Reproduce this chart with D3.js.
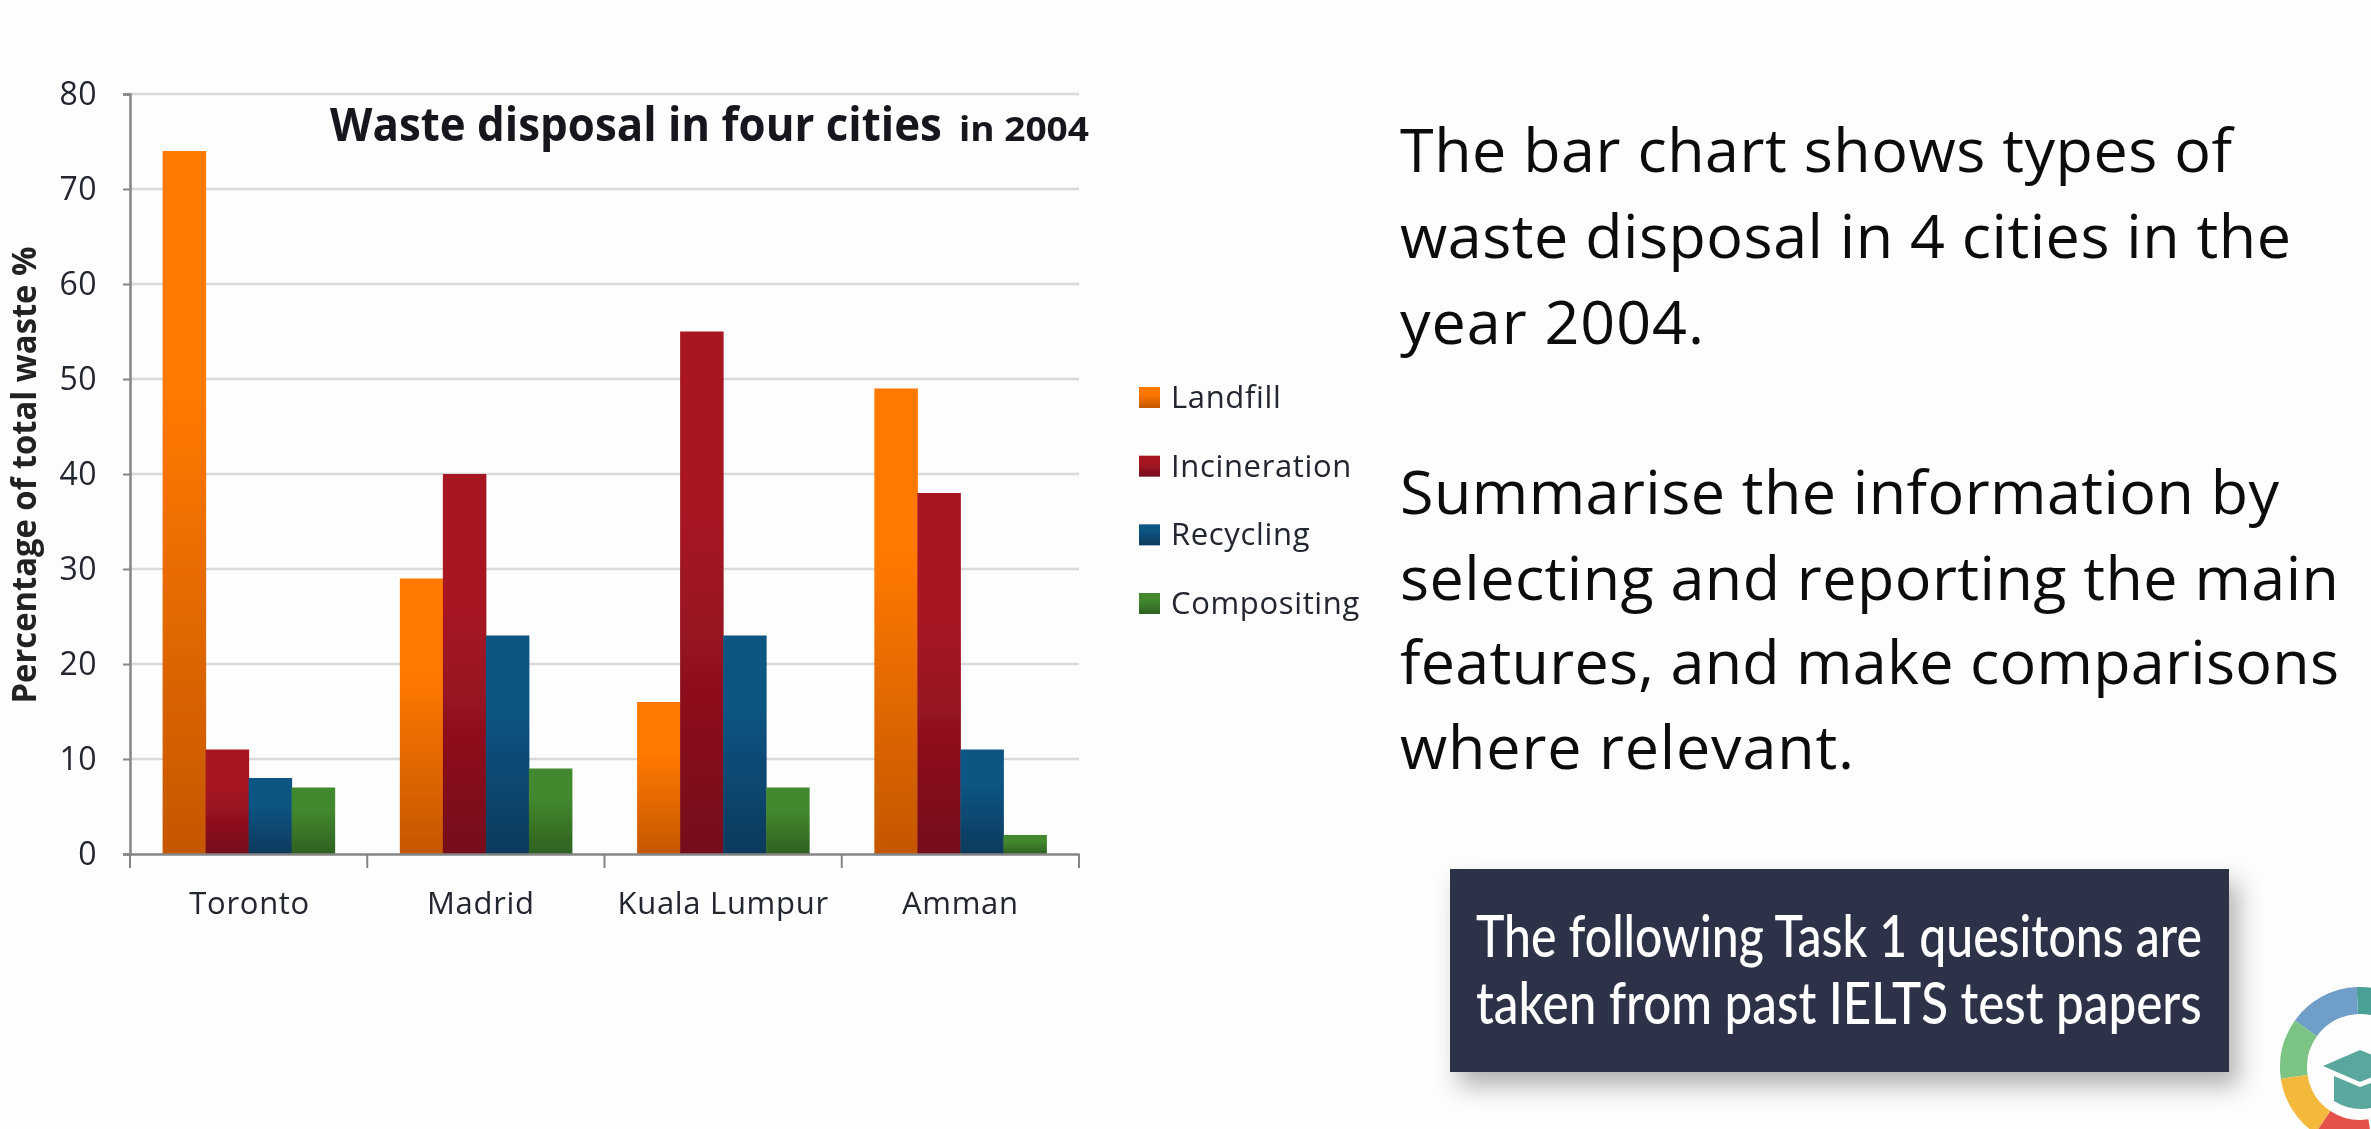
<!DOCTYPE html>
<html><head><meta charset="utf-8">
<script src="https://cdn.jsdelivr.net/npm/d3@7"></script>
<style>html,body{margin:0;padding:0;background:#fdfdfd;overflow:hidden}svg{display:block}</style>
</head><body><svg id="c" width="2371" height="1129"></svg>
<script>
const cities = ["Toronto","Madrid","Kuala Lumpur","Amman"];
const seriesNames = ["Landfill","Incineration","Recycling","Compositing"];
const landfill = [74,29,16,49];
const incineration = [11,40,55,38];
const recycling = [8,23,23,11];
const compositing = [7,9,7,2];
const yTicks = [0,10,20,30,40,50,60,70,80];
const seriesColors = [["#ff7800","#c45700"],["#a81524","#760d1a"],["#0f5483","#0b3a5c"],["#43882f","#2d6120"]];
const chartTitle = "Waste disposal in four cities";
const titleSuffix = "in 2004";
const yTitle = "Percentage of total waste %";
const para1 = ["The bar chart shows types of","waste disposal in 4 cities in the","year 2004."];
const para2 = ["Summarise the information by","selecting and reporting the main","features, and make comparisons","where relevant."];
const boxLines = ["The following Task 1 quesitons are","taken from past IELTS test papers"];

const seriesValues = [landfill,incineration,recycling,compositing];
const svg = d3.select("#c");
const F = "'Open Sans',sans-serif";
const defs = svg.append("defs");
seriesColors.forEach((c,i)=>{
  const g = defs.append("linearGradient").attr("id","g"+i).attr("x1",0).attr("x2",0).attr("y1",0).attr("y2",1);
  g.append("stop").attr("offset","0.35").attr("stop-color",c[0]);
  g.append("stop").attr("offset","1").attr("stop-color",c[1]);
});
const sh = defs.append("filter").attr("id","sh").attr("x","-10%").attr("y","-20%").attr("width","125%").attr("height","150%");
sh.append("feDropShadow").attr("dx",9).attr("dy",14).attr("stdDeviation",12).attr("flood-color","#000").attr("flood-opacity",0.3);
const soft = defs.append("filter").attr("id","soft");
soft.append("feGaussianBlur").attr("stdDeviation",0.6);

const x0 = d3.scaleBand().domain(cities).range([130,1079]);
const x1 = d3.scaleBand().domain(seriesNames).range([0,x0.bandwidth()]).paddingInner(0).paddingOuter(0.758);
const y = d3.scaleLinear().domain([0,80]).range([854,94]);

// squeeze a text horizontally to a target width, keeping its real bounding box
function fitWidth(sel, x, yPos, width){
  const w = sel.node().getComputedTextLength();
  sel.attr("transform",`translate(${x},${yPos}) scale(${width/w},1)`);
}

const chart = svg.append("g").attr("filter","url(#soft)");
chart.append("g").selectAll("line").data(yTicks.filter(d=>d>0)).join("line")
  .attr("x1",130).attr("x2",1079).attr("y1",d=>y(d)).attr("y2",d=>y(d))
  .attr("stroke","#d9d9d9").attr("stroke-width",2.5);

cities.forEach((city,ci)=>{
  chart.append("g").selectAll("rect").data(seriesNames).join("rect")
    .attr("x",s=>x0(city)+x1(s)).attr("width",x1.bandwidth()+0.5)
    .attr("y",(s,si)=>y(seriesValues[si][ci]))
    .attr("height",(s,si)=>y(0)-y(seriesValues[si][ci]))
    .attr("fill",(s,si)=>`url(#g${si})`);
});

const axL = chart.append("g").attr("transform","translate(130,0)")
  .call(d3.axisLeft(y).tickValues(yTicks).tickSize(7).tickPadding(26));
const axB = chart.append("g").attr("transform","translate(0,854)")
  .call(d3.axisBottom(x0).tickSize(0).tickPadding(44));
[axL,axB].forEach(a=>{
  a.selectAll("path").attr("stroke","#858585").attr("stroke-width",2.5);
  a.selectAll("line").attr("stroke","#858585").attr("stroke-width",2);
  a.selectAll("text").attr("font-family",F).attr("font-weight",500).attr("font-size",31).attr("letter-spacing",0.7).attr("fill","#23252e");
});
axL.selectAll("text").attr("font-size",32).attr("letter-spacing",0.4);
axB.selectAll("text").attr("dy","0.5em").attr("dx",(d,i)=>i===1?-5:(i===0?1:0));
chart.append("g").selectAll("line").data(x0.domain().concat(["end"])).join("line")
  .attr("x1",d=>d==="end"?1079:x0(d)).attr("x2",d=>d==="end"?1079:x0(d))
  .attr("y1",854).attr("y2",868).attr("stroke","#858585").attr("stroke-width",2);

const t1 = chart.append("text").attr("font-family",F).attr("font-weight",700)
  .attr("font-size",46).attr("fill","#14161c").text(chartTitle);
fitWidth(t1,330,141,612);
const t2 = chart.append("text").attr("font-family",F).attr("font-weight",700)
  .attr("font-size",34).attr("fill","#14161c").text(titleSuffix);
fitWidth(t2,959,141,130);
chart.append("text").attr("transform","translate(36,475) rotate(-90)").attr("text-anchor","middle")
  .attr("font-family",F).attr("font-weight",700).attr("font-size",34).attr("fill","#222")
  .attr("textLength",457).attr("lengthAdjust","spacingAndGlyphs").text(yTitle);

const legY = d3.scalePoint().domain(seriesNames).range([397,603]);
const leg = chart.append("g").selectAll("g").data(seriesNames).join("g");
leg.append("rect").attr("x",1139).attr("y",d=>legY(d)-10).attr("width",21).attr("height",21)
  .attr("fill",(d,i)=>`url(#g${i})`);
leg.append("text").attr("x",1171).attr("y",d=>legY(d)+11).attr("font-family",F).attr("font-weight",500)
  .attr("font-size",31).attr("letter-spacing",0.65).attr("fill","#23252e").text(d=>d);

const para = svg.append("g").attr("font-family",F).attr("font-size",61).attr("fill","#0c0c0c");
const p1Y = [172,258,344], p2Y=[514,600,684,769];
const p1W = [832,891,304], p2W=[879,939,939,454];
para1.forEach((t,i)=>para.append("text").attr("x",1400).attr("y",p1Y[i]).attr("textLength",p1W[i]).text(t));
para2.forEach((t,i)=>para.append("text").attr("x",1400).attr("y",p2Y[i]).attr("textLength",p2W[i]).text(t));

svg.append("rect").attr("x",1450).attr("y",869).attr("width",779).attr("height",203).attr("fill","#2e3349").attr("filter","url(#sh)");
const boxY=[957,1024];
boxLines.forEach((t,i)=>{
  const b = svg.append("text").attr("font-family","Lato,sans-serif").attr("font-weight",500)
    .attr("font-size",57).attr("fill","#fff").text(t);
  fitWidth(b,1476,boxY[i],726);
});

// badge at the lower right corner
const logo = svg.append("g").attr("transform","translate(2360,1067)");
const arc = d3.arc().innerRadius(53).outerRadius(80);
const segs = [[-0.04,0.6,"#49a196"],[-0.95,-0.04,"#6f9fc9"],[-1.72,-0.95,"#7cc484"],[-2.55,-1.72,"#f4b93c"],[-3.3,-2.55,"#e5504b"]];
logo.selectAll("path.s").data(segs).join("path").attr("class","s").attr("d",d=>arc({startAngle:d[0],endAngle:d[1]})).attr("fill",d=>d[2]);
logo.append("path").attr("d","M-37,-1 L0,-17 L40,-1 L0,15 Z").attr("fill","#5aa79e");
logo.append("path").attr("d","M-26,9 L0,20 L30,9 L30,34 Q0,50 -26,34 Z").attr("fill","#5aa79e");
</script></body></html>
